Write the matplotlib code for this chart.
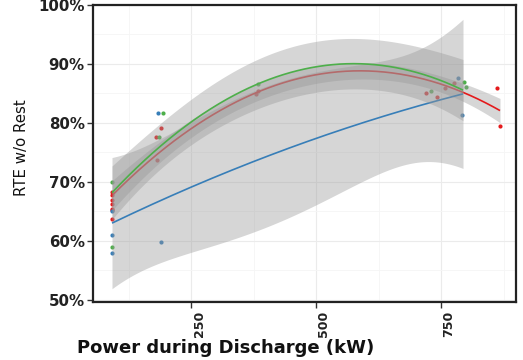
import numpy as np
import matplotlib
matplotlib.use("Agg")
import matplotlib.pyplot as plt
import matplotlib.transforms as mtransforms
from matplotlib.ticker import FixedLocator, FuncFormatter

plt.rcParams['font.family'] = ['DejaVu Sans']

# ---- observed points (power kW, round-trip efficiency %) ----
red_x = [92, 92, 92, 92, 92, 92, 92, 180, 190, 181, 380, 384, 719, 741, 758, 775, 861, 868]
red_y = [68.3, 67.8, 67.0, 66.3, 65.5, 65.2, 63.8, 77.7, 79.2, 73.8, 84.9, 85.5, 85.1, 84.4, 86.0, 86.8, 86.0, 79.5]
blue_x = [92, 92, 92, 183, 190, 783, 791]
blue_y = [65.0, 61.0, 58.0, 81.7, 59.8, 87.7, 81.4]
green_x = [92, 92, 186, 194, 384, 729, 796, 800]
green_y = [70.0, 59.0, 77.7, 81.7, 86.6, 85.4, 87.0, 86.1]

# ---- smoothed trend (quadratic) and confidence half-width, per group ----
red_fx = [92, 248, 328, 388, 548, 662, 794, 868]
red_fit = [67.6, 79.0, 83.2, 85.3, 88.6, 88.4, 85.1, 82.2]
red_hw = [2.5, 1.6, 1.4, 1.3, 1.5, 1.4, 1.4, 2.1]

blue_fx = [92, 190, 328, 468, 548, 626, 708, 794]
blue_fit = [63.1, 66.6, 72.2, 76.5, 78.8, 80.6, 82.9, 85.1]
blue_hw = [11.1, 10.6, 11.6, 11.8, 10.6, 9.2, 9.8, 12.6]

green_fx = [92, 188, 328, 388, 548, 628, 701, 794]
green_fit = [68.0, 76.1, 84.6, 86.8, 89.9, 89.7, 88.2, 85.9]
green_hw = [4.5, 4.0, 3.8, 4.3, 4.5, 4.0, 4.5, 5.2]

groups = [
    ("#E41A1C", red_x, red_y, red_fx, red_fit, red_hw),
    ("#377EB8", blue_x, blue_y, blue_fx, blue_fit, blue_hw),
    ("#4DAF4A", green_x, green_y, green_fx, green_fit, green_hw),
]

x_major = [250, 500, 750]
x_minor = [125, 375, 625, 875]
y_major = [50, 60, 70, 80, 90, 100]
y_minor = [55, 65, 75, 85, 95]

fig = plt.figure(figsize=(5.23, 3.60), dpi=100)
ax = fig.add_axes([93 / 523, 1 - 302 / 360, (516 - 93) / 523, (302 - 5) / 360])

for col, px, py, *_ in groups:
    ax.scatter(px, py, s=9, color=col, linewidths=0, zorder=2)

for col, px, py, fx, fit, hw in groups:
    fx = np.asarray(fx, float)
    dense = np.linspace(fx[0], fx[-1], 300)
    mid = np.polyval(np.polyfit(fx, fit, 2), dense)
    half = np.sqrt(np.clip(np.polyval(np.polyfit(fx, np.square(hw), 4), dense), 0, None))
    ax.fill_between(dense, mid - half, mid + half, color="#999999", alpha=0.4,
                    linewidth=0, zorder=3)
    ax.plot(dense, mid, color=col, lw=1.2, zorder=3, solid_capstyle="butt")

ax.set_xlim(54, 900)
ax.set_ylim(49.66, 100)
ax.xaxis.set_major_locator(FixedLocator(x_major))
ax.xaxis.set_minor_locator(FixedLocator(x_minor))
ax.yaxis.set_major_locator(FixedLocator(y_major))
ax.yaxis.set_minor_locator(FixedLocator(y_minor))
ax.yaxis.set_major_formatter(FuncFormatter(lambda v, p: f"{v:.0f}%"))

ax.grid(which="major", color="#EBEBEB", lw=0.8, zorder=0)
ax.grid(which="minor", color="#F5F5F5", lw=0.6, zorder=0)
ax.set_axisbelow(True)
for s in ax.spines.values():
    s.set_linewidth(1.6)
    s.set_color("#222222")

ax.tick_params(axis="both", which="major", length=4, width=1.0, color="#333333", pad=2)
ax.tick_params(axis="both", which="minor", length=0)
ax.tick_params(axis="y", labelsize=10.8)
ax.tick_params(axis="x", labelsize=9, labelrotation=90)
shift = mtransforms.ScaledTranslation(8 / 100, 0, fig.dpi_scale_trans)
for lab in ax.get_xticklabels():
    lab.set_transform(lab.get_transform() + shift)
for lab in ax.get_yticklabels() + ax.get_xticklabels():
    lab.set_fontweight("bold")
    lab.set_color("#222222")

fig.text(22 / 523, 1 - 148 / 360, "RTE w/o Rest", rotation=90, fontsize=10.8,
         ha="center", va="center", color="#111111")
fig.text(226 / 523, 1 - 348 / 360, "Power during Discharge (kW)", fontsize=13,
         fontweight="bold", ha="center", va="center", color="#111111")

fig.savefig("out.png", dpi=100)
